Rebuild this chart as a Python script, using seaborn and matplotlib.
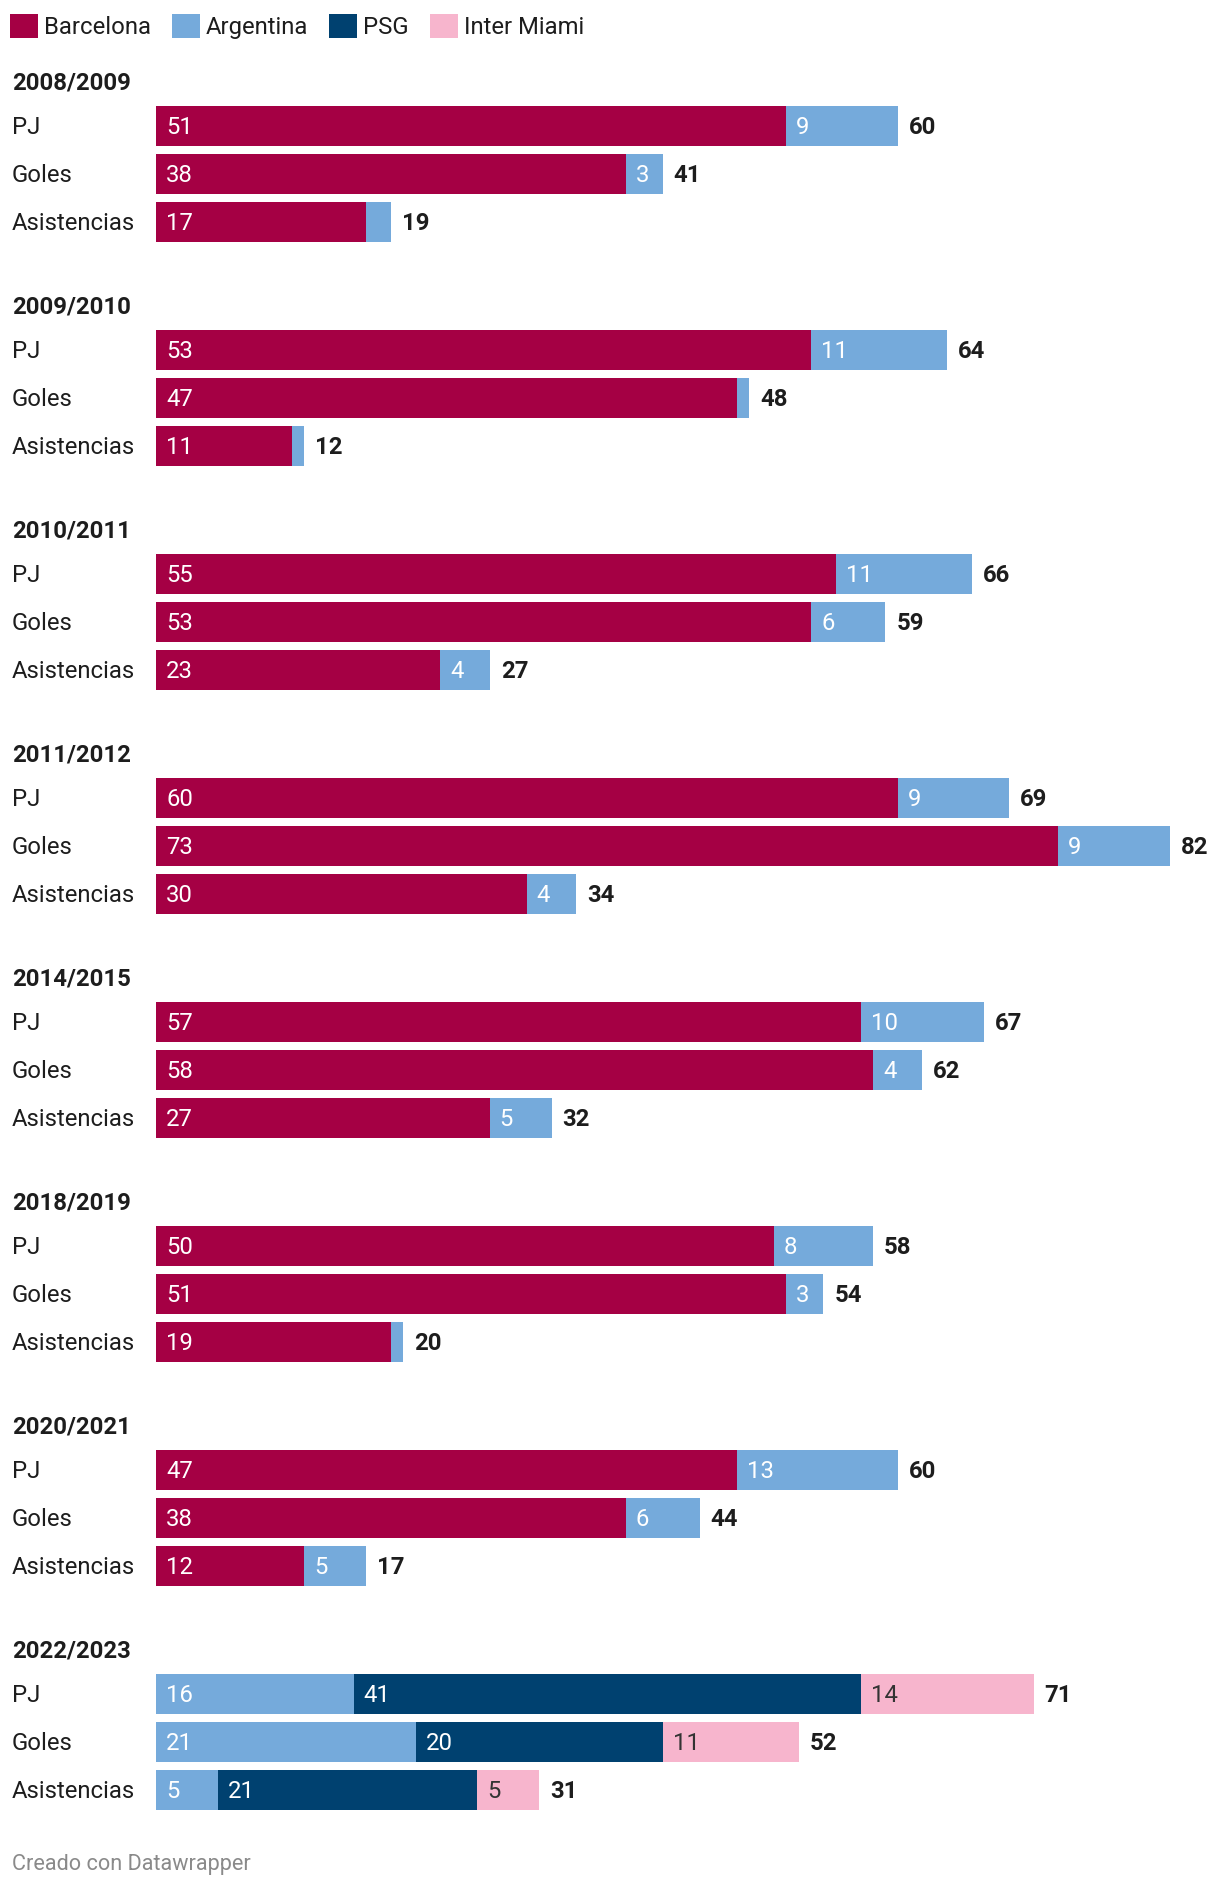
import numpy as np
import pandas as pd
import matplotlib
matplotlib.use("Agg")
import matplotlib.pyplot as plt
from matplotlib.patches import Patch
import seaborn as sns

# ---------------- data ----------------
seasons = ["2008/2009", "2009/2010", "2010/2011", "2011/2012",
           "2014/2015", "2018/2019", "2020/2021", "2022/2023"]
metrics = ["PJ", "Goles", "Asistencias"]
teams = ["Barcelona", "Argentina", "PSG", "Inter Miami"]

# values per season, in order PJ, Goles, Asistencias
barcelona = [51, 38, 17,  53, 47, 11,  55, 53, 23,  60, 73, 30,
             57, 58, 27,  50, 51, 19,  47, 38, 12,   0,  0,  0]
argentina = [9, 3, 2,  11, 1, 1,  11, 6, 4,  9, 9, 4,
             10, 4, 5,  8, 3, 1,  13, 6, 5,  16, 21, 5]
psg = [0, 0, 0,  0, 0, 0,  0, 0, 0,  0, 0, 0,
       0, 0, 0,  0, 0, 0,  0, 0, 0,  41, 20, 21]
inter_miami = [0, 0, 0,  0, 0, 0,  0, 0, 0,  0, 0, 0,
               0, 0, 0,  0, 0, 0,  0, 0, 0,  14, 11, 5]

# ---------------- style ----------------
colors = {"Barcelona": "#a50044", "Argentina": "#75aadb",
          "PSG": "#004170", "Inter Miami": "#f7b5cd"}
label_colors = {"Barcelona": "white", "Argentina": "white",
                "PSG": "white", "Inter Miami": "#333333"}

FIG_W, FIG_H = 1220, 1888
X0 = 156          # pixel where bars start
PXU = 12.36       # pixels per unit
TITLE0 = 82       # first group title centre (px from top)
GROUP = 224       # group pitch
TITLE_GAP = 44    # title centre to first bar centre
PITCH = 48        # bar pitch
BAR_H = 40        # bar height
FS = 17.2         # ~24 px
TXT_DY = -1.2     # small vertical nudge of text (px)
TEXT_DARK = "#1d1d1d"

sns.set_theme(style="white")
plt.rcParams['font.family'] = ['Roboto', 'DejaVu Sans']

series = {"Barcelona": barcelona, "Argentina": argentina,
          "PSG": psg, "Inter Miami": inter_miami}

rows = []
for i, s in enumerate(seasons):
    for j, m in enumerate(metrics):
        k = i * 3 + j
        r = dict(season=s, metric=m,
                 ypos=TITLE0 + TITLE_GAP + i * GROUP + j * PITCH)
        for t in teams:
            r[t] = series[t][k]
        rows.append(r)
df = pd.DataFrame(rows)
cum = df[teams].cumsum(axis=1)
for t in teams:
    df["cum_" + t] = cum[t]
df["total"] = cum[teams[-1]]

fig = plt.figure(figsize=(FIG_W / 100, FIG_H / 100), dpi=100)
ax = fig.add_axes([0, 0, 1, 1])

for t in reversed(teams):
    sns.barplot(data=df, x="cum_" + t, y="ypos", orient="y",
                native_scale=True, color=colors[t], saturation=1,
                width=BAR_H / PITCH, errorbar=None, linewidth=0, ax=ax)

ax.set_xlim(-X0 / PXU, (FIG_W - X0) / PXU)
ax.set_ylim(FIG_H, 0)
ax.axis("off")

ytr = ax.get_yaxis_transform()

# labels
for _, r in df.iterrows():
    y = r["ypos"] + TXT_DY
    ax.text(12 / FIG_W, y, r["metric"], transform=ytr, ha="left",
            va="center_baseline", fontsize=FS, color=TEXT_DARK)
    start = 0
    for t in teams:
        v = r[t]
        if v >= 3:
            ax.text(start + 10 / PXU, y, str(v), ha="left",
                    va="center_baseline", fontsize=FS, color=label_colors[t])
        start += v
    ax.text(r["total"] + 11 / PXU, y, str(r["total"]), ha="left",
            va="center_baseline", fontsize=FS, fontweight="bold",
            color=TEXT_DARK)

for i, s in enumerate(seasons):
    ax.text(12 / FIG_W, TITLE0 + i * GROUP + TXT_DY, s, transform=ytr,
            ha="left", va="center_baseline", fontsize=FS, fontweight="bold",
            color=TEXT_DARK)

# legend
handles = [Patch(facecolor=colors[t], edgecolor="none", label=t) for t in teams]
leg = fig.legend(handles=handles, loc="upper left",
                 bbox_to_anchor=(10 / FIG_W, 1 - 14 / FIG_H),
                 ncol=4, frameon=False, fontsize=FS,
                 handlelength=1.17, handleheight=1.17,
                 handletextpad=0.25, columnspacing=0.88,
                 borderpad=0, borderaxespad=0)
for txt in leg.get_texts():
    txt.set_color(TEXT_DARK)

fig.text(12 / FIG_W, 1 - 1862 / FIG_H, "Creado con Datawrapper",
         color="#8a8a8a", fontsize=15.6, ha="left", va="center_baseline")

fig.savefig("out.png", dpi=100, facecolor="white")
